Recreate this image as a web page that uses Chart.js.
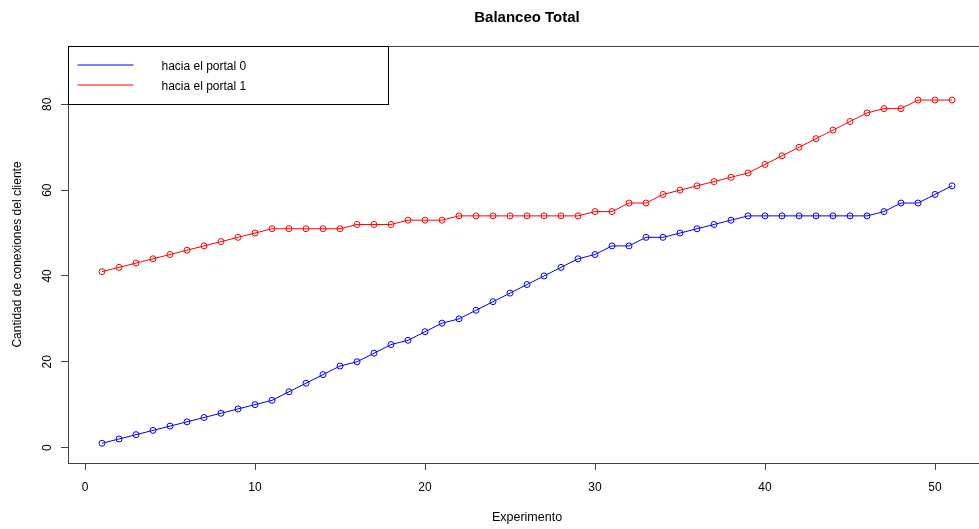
<!DOCTYPE html>
<html><head><meta charset="utf-8">
<script src="https://cdn.jsdelivr.net/npm/chart.js@4.4.0/dist/chart.umd.min.js"></script>
<style>html,body{margin:0;padding:0;background:#fff;overflow:hidden;width:979px;height:529px}canvas{display:block}</style>
</head><body><canvas id="c" width="991" height="529"></canvas>
<script>
const experimentos = [1,2,3,4,5,6,7,8,9,10,11,12,13,14,15,16,17,18,19,20,21,22,23,24,25,26,27,28,29,30,31,32,33,34,35,36,37,38,39,40,41,42,43,44,45,46,47,48,49,50,51];
const portal0 = [1,2,3,4,5,6,7,8,9,10,11,13,15,17,19,20,22,24,25,27,29,30,32,34,36,38,40,42,44,45,47,47,49,49,50,51,52,53,54,54,54,54,54,54,54,54,55,57,57,59,61];
const portal1 = [41,42,43,44,45,46,47,48,49,50,51,51,51,51,51,52,52,52,53,53,53,54,54,54,54,54,54,54,54,55,55,57,57,59,60,61,62,63,64,66,68,70,72,74,76,78,79,79,81,81,81];
const xTicks = [0,10,20,30,40,50];
const yTicks = [0,20,40,60,80];
const seriesNames = ['hacia el portal 0','hacia el portal 1'];
const seriesColors = ['#0000ff','#ff0000'];
const titleText = 'Balanceo Total';
const xTitle = 'Experimento';
const yTitle = 'Cantidad de conexiones del cliente';

const FONT = '"Liberation Sans", Arial, sans-serif';
Chart.defaults.font.family = FONT;
Chart.defaults.color = '#000';

const rStyle = {
  id: 'rStyle',
  afterDraw(chart) {
    const {ctx, chartArea: a, scales: {y}} = chart;
    ctx.save();
    ctx.strokeStyle = '#444';
    ctx.lineWidth = 1;
    ctx.strokeRect(Math.round(a.left) + 0.5, Math.round(a.top) + 0.5, Math.round(a.right - a.left), Math.round(a.bottom - a.top));
    ctx.fillStyle = '#000';
    ctx.font = '12px ' + FONT;
    ctx.textAlign = 'center';
    ctx.textBaseline = 'middle';
    yTicks.forEach(v => {
      const py = y.getPixelForValue(v);
      ctx.save();
      ctx.translate(a.left - 20, py);
      ctx.rotate(-Math.PI / 2);
      ctx.fillText(String(v), 0, 0);
      ctx.restore();
    });
    // legend
    const lx = Math.round(a.left) + 0.5, ly = Math.round(a.top) + 0.5;
    ctx.fillStyle = '#fff';
    ctx.fillRect(lx, ly, 320, 58);
    ctx.strokeStyle = '#000';
    ctx.lineWidth = 1;
    ctx.strokeRect(lx, ly, 320, 58);
    seriesNames.forEach((name, i) => {
      const yy = Math.round(a.top) + 19 + i * 20;
      ctx.beginPath();
      ctx.strokeStyle = seriesColors[i];
      ctx.lineWidth = 1;
      ctx.moveTo(lx + 9, yy);
      ctx.lineTo(lx + 65, yy);
      ctx.stroke();
      ctx.fillStyle = '#000';
      ctx.textAlign = 'left';
      ctx.fillText(name, lx + 93, yy + 1.5);
    });
    ctx.restore();
  }
};

const mkData = (vals) => experimentos.map((x, i) => ({x, y: vals[i]}));

new Chart(document.getElementById('c'), {
  type: 'line',
  data: {
    datasets: [portal0, portal1].map((vals, i) => ({
      label: seriesNames[i],
      data: mkData(vals),
      borderColor: seriesColors[i],
      backgroundColor: 'transparent',
      borderWidth: 1,
      pointRadius: 3,
      pointBorderWidth: 1,
      pointBackgroundColor: 'transparent',
      pointBorderColor: seriesColors[i],
      tension: 0,
      fill: false
    }))
  },
  options: {
    responsive: false,
    devicePixelRatio: 1,
    animation: false,
    layout: {padding: 0},
    plugins: {
      legend: {display: false},
      tooltip: {enabled: false},
      title: {
        display: true, text: titleText, fullSize: false,
        font: {size: 15, weight: 'bold', family: FONT},
        color: '#000',
        padding: {top: 9, bottom: 19}
      }
    },
    scales: {
      x: {
        type: 'linear', min: -1, max: 53,
        afterBuildTicks: s => { s.ticks = xTicks.map(v => ({value: v})); },
        afterFit: s => { s.height = 66; },
        grid: {drawOnChartArea: false, drawTicks: true, tickLength: 7, tickColor: '#444', color: '#444'},
        border: {display: false},
        ticks: {font: {size: 12}, color: '#000', padding: 10, maxRotation: 0},
        title: {display: true, text: xTitle, font: {size: 12.5}, color: '#000', padding: {top: 0, bottom: 4}}
      },
      y: {
        type: 'linear', min: -3.6, max: 93.6,
        afterBuildTicks: s => { s.ticks = yTicks.map(v => ({value: v})); },
        afterFit: s => { s.width = 68; },
        grid: {drawOnChartArea: false, drawTicks: true, tickLength: 7, tickColor: '#444', color: '#444'},
        border: {display: false},
        ticks: {display: false},
        title: {display: true, text: yTitle, font: {size: 12}, color: '#000', padding: {top: 10, bottom: 0}}
      }
    }
  },
  plugins: [rStyle]
});
</script></body></html>
